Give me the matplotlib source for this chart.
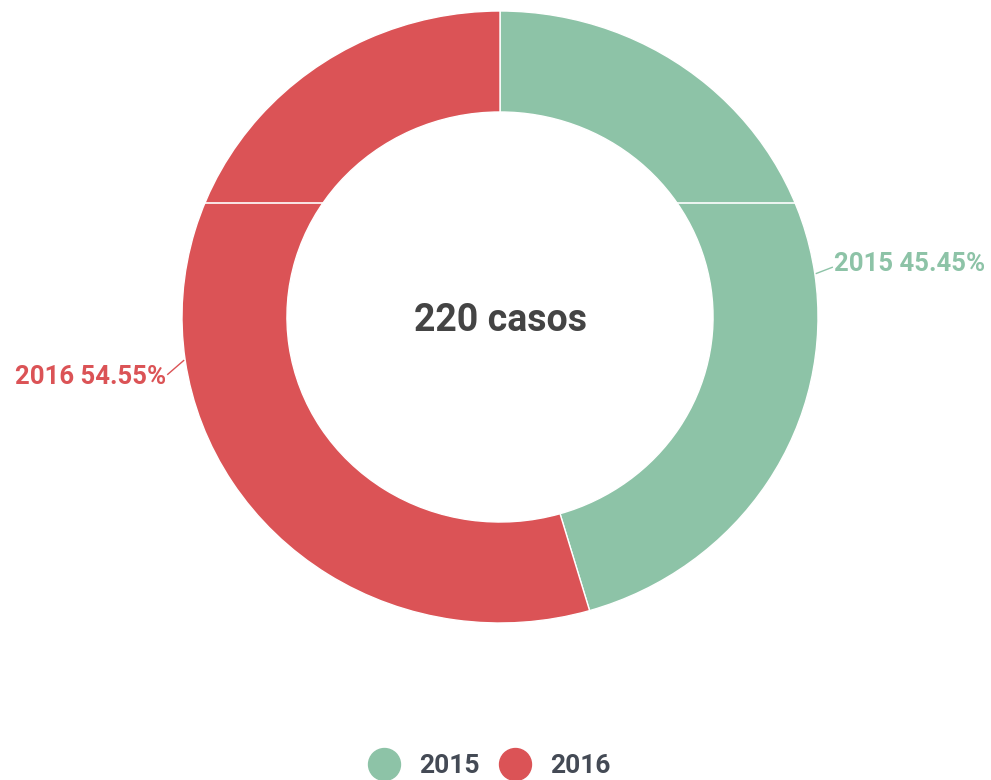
import numpy as np
import matplotlib.pyplot as plt
from matplotlib.lines import Line2D

plt.rcParams['font.family'] = ['Roboto', 'DejaVu Sans']

years = ['2015', '2016']
cases = [100, 120]
colors = ['#8DC3A7', '#DB5356']
total_label = '220 casos'

W, H = 991, 780
fig = plt.figure(figsize=(W / 100, H / 100), dpi=100)

# ring centre (500, 317) px, radius 318 px wide / 306 px tall
cx, cy, rx, ry = 500, 317, 318, 306
ax = fig.add_axes([(cx - 1.25 * rx) / W, (H - cy - 1.25 * ry) / H,
                   2.5 * rx / W, 2.5 * ry / H])
wedges, _ = ax.pie(cases, colors=colors, startangle=90, counterclock=False,
                   wedgeprops=dict(width=0.33, edgecolor='white', linewidth=1))
ax.set_aspect('auto')
ax.set_xlim(-1.25, 1.25)
ax.set_ylim(-1.25, 1.25)
ax.axis('off')

# thin white seam across the ring
ax.axhline((cy - 203) / ry, color='white', lw=1.2)

ax.text(0, -0.01, total_label, ha='center', va='center', fontsize=27,
        fontweight='bold', color='#444444')

# outside labels
total = sum(cases)
for w, yr, n, c in zip(wedges, years, cases, colors):
    mid = np.deg2rad((w.theta1 + w.theta2) / 2)
    x0, y0 = np.cos(mid), np.sin(mid)
    side = 1 if x0 > 0 else -1
    x1, y1 = x0 + 0.055 * side, y0 + (0.02 if side > 0 else -0.045)
    ax.plot([x0 + 0.005 * side, x1], [y0, y1], color=c, lw=1)
    ax.text(x1 + 0.005 * side, y1 + (0.01 if side > 0 else -0.01),
            f'{yr} {n / total * 100:.2f}%',
            ha='left' if side > 0 else 'right', va='center',
            fontsize=18.5, fontweight='bold', color=c)

handles = [Line2D([], [], marker='o', ls='', markersize=23,
                  markerfacecolor=c, markeredgecolor=c) for c in colors]
fig.legend(handles, years, loc='center', bbox_to_anchor=(484 / W, 1 - 766 / H),
           ncol=2, frameon=False, handletextpad=0.35,
           columnspacing=0.32, prop=dict(weight='bold', size=19),
           labelcolor='#444a55')

fig.savefig('out.png', dpi=100, facecolor='white')
